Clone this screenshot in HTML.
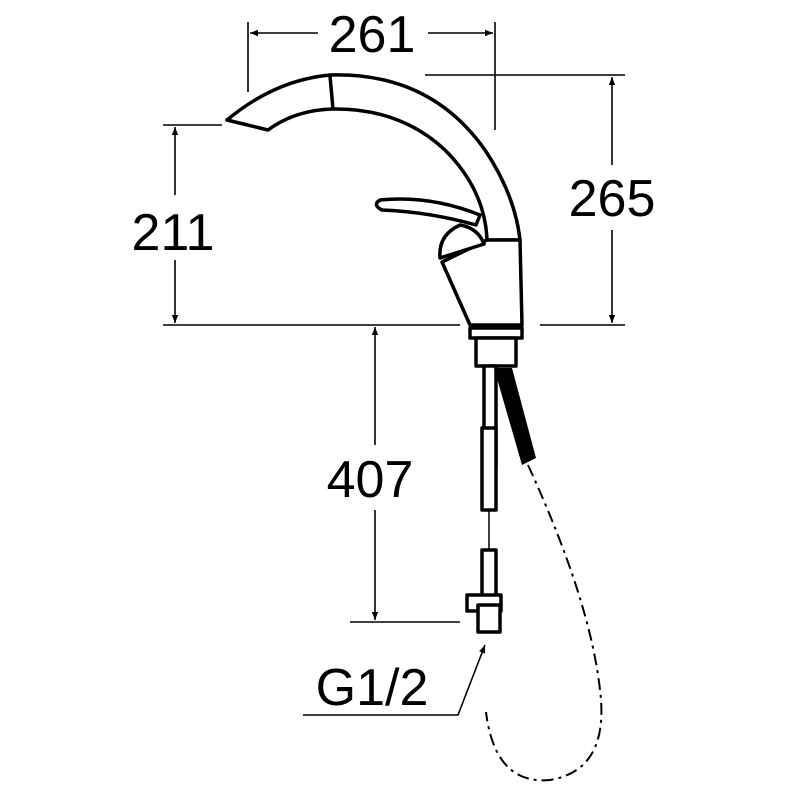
<!DOCTYPE html>
<html><head><style>body{margin:0;background:#fff}svg{display:block}</style></head><body>
<svg width="800" height="800" viewBox="0 0 800 800" xmlns="http://www.w3.org/2000/svg">
<defs><marker id="a" viewBox="0 0 10 10" refX="10" refY="5" markerWidth="10" markerHeight="8" orient="auto-start-reverse" markerUnits="userSpaceOnUse"><path d="M0,1 L10,5 L0,9 z" fill="#000"/></marker></defs>
<g stroke="#000" stroke-width="1.6" fill="none">
<line x1="248" y1="22" x2="248" y2="92"/><line x1="495" y1="22" x2="495" y2="130"/>
<line x1="250" y1="33" x2="318" y2="33" marker-start="url(#a)"/><line x1="428" y1="33" x2="493" y2="33" marker-end="url(#a)"/>
<line x1="425" y1="75" x2="625" y2="75"/><line x1="540" y1="325" x2="625" y2="325"/>
<line x1="612" y1="77" x2="612" y2="165" marker-start="url(#a)"/><line x1="612" y1="230" x2="612" y2="323" marker-end="url(#a)"/>
<line x1="163" y1="125" x2="222" y2="125"/><line x1="163" y1="325" x2="460" y2="325"/>
<line x1="175" y1="127" x2="175" y2="195" marker-start="url(#a)"/><line x1="175" y1="260" x2="175" y2="323" marker-end="url(#a)"/>
<line x1="350" y1="622" x2="460" y2="622"/>
<line x1="375" y1="327" x2="375" y2="445" marker-start="url(#a)"/><line x1="375" y1="510" x2="375" y2="620" marker-end="url(#a)"/>
<polyline points="303,715 458,715 485,645" marker-end="url(#a)"/>
</g>
<g stroke="#000" stroke-width="3.5" fill="#fff" stroke-linejoin="round">
<path d="M227,120 Q275,80 330,75 Q430,72 485,150 Q515,195 520,240 L487,240 Q485,190 445,150 Q400,108 333,109 Q295,110 268,130 Z"/>
<line x1="330" y1="76" x2="333" y2="109"/>
<path d="M442,262 L487,240 L520,240 L522,325 L470,325 Z"/>
<path d="M380,200 Q430,195 480,215 L476,225 Q430,212 382,210 Q372,205 380,200 Z"/>
<path d="M440,258 Q438,235 460,225 Q478,228 484,244 Z"/>
<rect x="470" y="328" width="52" height="10"/>
<rect x="476" y="338" width="40" height="28"/>
<rect x="484" y="366" width="12" height="100"/>
<rect x="482" y="428" width="14" height="82"/>
<rect x="482" y="550" width="14" height="52"/>
<rect x="467" y="595" width="34" height="16"/>
<rect x="478" y="605" width="22" height="27"/>
</g>
<path d="M494,368 L512,368 L536,458 L522,465 Z" fill="#000"/>
<line x1="489" y1="510" x2="489" y2="550" stroke="#000" stroke-width="1.5"/>
<path d="M528,465 Q590,600 600,690 Q610,770 550,780 Q495,785 486,712" stroke="#000" stroke-width="2" fill="none" stroke-dasharray="12,5,3,5"/>
<g font-family="Liberation Sans, sans-serif" font-size="52" fill="#000" text-anchor="middle">
<text x="372" y="52">261</text>
<text x="612" y="216">265</text>
<text x="173" y="250">211</text>
<text x="370" y="497">407</text>
<text x="372" y="705">G1/2</text>
</g>
</svg>
</body></html>
